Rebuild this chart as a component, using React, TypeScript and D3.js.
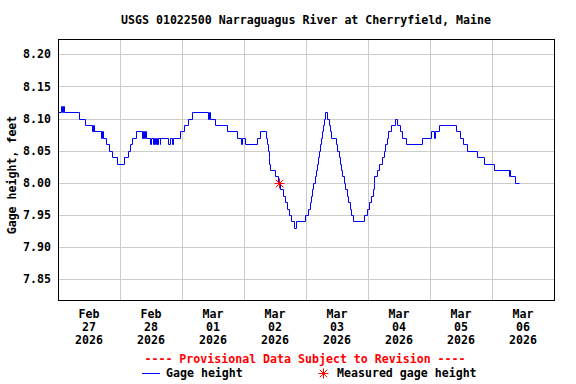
import React from 'react'
import * as d3 from 'd3'

// gage height, feet, as [hours since Feb 27 2026 00:00, value] change points
const gageHeight: [number, number][] = [
  [0, 8.11], [1.0, 8.12], [1.5, 8.11], [1.8, 8.12], [2.3, 8.11],
  [8.3, 8.1], [10.3, 8.09], [13.2, 8.08], [13.4, 8.09], [13.6, 8.08],
  [13.8, 8.09], [14.0, 8.08], [16.8, 8.07], [17.0, 8.08], [17.3, 8.07],
  [18.6, 8.06], [19.6, 8.05], [20.9, 8.04], [22.8, 8.03], [25.7, 8.04],
  [27.0, 8.05], [27.9, 8.06], [28.6, 8.07], [30.3, 8.08], [32.5, 8.07],
  [32.9, 8.08], [33.3, 8.07], [33.7, 8.08], [34.1, 8.07], [35.7, 8.06],
  [36.0, 8.07], [36.6, 8.06], [36.9, 8.07], [37.3, 8.06], [37.6, 8.07],
  [37.9, 8.06], [38.2, 8.07], [38.5, 8.06], [38.9, 8.07], [39.3, 8.06],
  [39.6, 8.07], [42.4, 8.06], [43.2, 8.07], [44.3, 8.06], [44.6, 8.07],
  [47.4, 8.08], [48.8, 8.09], [50.2, 8.1], [52.0, 8.11], [58.2, 8.1],
  [58.6, 8.11], [59.0, 8.1], [60.7, 8.09], [65.6, 8.08], [69.2, 8.07],
  [70.9, 8.06], [71.3, 8.07], [72.4, 8.06], [76.9, 8.07], [78.3, 8.08],
  [80.4, 8.07], [80.9, 8.06], [81.3, 8.05], [81.6, 8.04], [81.8, 8.03],
  [82.2, 8.02], [84.1, 8.01], [85.0, 8.0], [85.9, 7.99], [87.0, 7.98],
  [87.8, 7.97], [88.5, 7.96], [89.3, 7.95], [90.2, 7.94], [91.3, 7.93],
  [92.1, 7.94], [95.8, 7.95], [96.8, 7.96], [97.4, 7.97], [97.9, 7.98],
  [98.3, 7.99], [98.8, 8.0], [99.3, 8.01], [99.8, 8.02], [100.3, 8.03],
  [100.7, 8.04], [101.1, 8.05], [101.5, 8.06], [101.8, 8.07], [102.1, 8.08],
  [102.4, 8.09], [102.8, 8.1], [103.2, 8.11], [104.3, 8.1], [104.8, 8.09],
  [105.3, 8.08], [105.7, 8.07], [107.6, 8.06], [108.0, 8.05], [108.6, 8.04],
  [109.1, 8.03], [109.6, 8.02], [110.1, 8.01], [110.6, 8.0], [111.2, 7.99],
  [111.8, 7.98], [112.3, 7.97], [112.9, 7.96], [113.5, 7.95], [114.2, 7.94],
  [118.3, 7.95], [119.8, 7.96], [120.4, 7.97], [121.3, 7.98], [122.0, 7.99],
  [122.3, 8.0], [122.5, 8.01], [123.3, 8.02], [124.4, 8.03], [125.5, 8.04],
  [126.0, 8.05], [126.5, 8.06], [127.2, 8.07], [127.6, 8.08], [128.9, 8.09],
  [130.5, 8.1], [131.4, 8.09], [132.4, 8.08], [133.2, 8.07], [134.6, 8.06],
  [141.0, 8.07], [144.4, 8.08], [145.4, 8.07], [145.8, 8.08], [147.4, 8.09],
  [154.0, 8.08], [155.7, 8.07], [156.8, 8.06], [158.2, 8.05], [162.2, 8.04],
  [164.9, 8.03], [168.6, 8.02], [174.5, 8.01], [174.7, 8.02], [175.0, 8.01],
  [177.0, 8.0], [178.3, 8.0],
]

const measured: [number, number][] = [[85.7, 8.0]]

const yTicks = [7.85, 7.9, 7.95, 8.0, 8.05, 8.1, 8.15, 8.2]
const dayLabels = [
  ['Feb', '27', '2026'],
  ['Feb', '28', '2026'],
  ['Mar', '01', '2026'],
  ['Mar', '02', '2026'],
  ['Mar', '03', '2026'],
  ['Mar', '04', '2026'],
  ['Mar', '05', '2026'],
  ['Mar', '06', '2026'],
]

const title = 'USGS 01022500 Narraguagus River at Cherryfield, Maine'
const font = '"DejaVu Sans Mono", monospace'
const fs = 11.6

const left = 58, right = 554, top = 39, bottom = 300

// snap to pixel centres so 1px lines stay sharp
const px = (v: number) => Math.round(v) + 0.5

const App = () => {
  const x = d3.scaleLinear().domain([0, 24 * 8]).range([left, right])
  const y = d3.scaleLinear().domain([7.85, 8.2]).range([279.3, 54.3])

  const line = d3
    .line<[number, number]>()
    .x((d) => px(x(d[0])))
    .y((d) => px(y(d[1])))
    .curve(d3.curveStepAfter)

  const star = (cx: number, cy: number, r: number) => (
    <g stroke="#ff0000" strokeWidth={1}>
      <line x1={cx - r} y1={cy} x2={cx + r} y2={cy} />
      <line x1={cx} y1={cy - r} x2={cx} y2={cy + r} />
      <line x1={cx - r * 0.75} y1={cy - r * 0.75} x2={cx + r * 0.75} y2={cy + r * 0.75} />
      <line x1={cx - r * 0.75} y1={cy + r * 0.75} x2={cx + r * 0.75} y2={cy - r * 0.75} />
    </g>
  )

  const midnights = d3.range(1, 8)

  return (
    <svg
      width={576}
      height={384}
      style={{ position: 'absolute', left: 0, top: 0, background: '#fff' }}
      fontFamily={font}
      fontWeight="bold"
      fontSize={fs}
    >
      <rect width={576} height={384} fill="#fff" />
      <text x={(left + right) / 2} y={20} dy="0.35em" textAnchor="middle">
        {title}
      </text>

      {/* grid */}
      <g stroke="#cccccc">
        {yTicks.map((t) => (
          <line key={t} x1={left} x2={right} y1={px(y(t))} y2={px(y(t))} />
        ))}
        {midnights.map((d) => (
          <line key={d} x1={px(x(d * 24))} x2={px(x(d * 24))} y1={top} y2={bottom} />
        ))}
      </g>

      <path d={line(gageHeight) ?? ''} fill="none" stroke="#0000ff" strokeWidth={1} />
      {measured.map((m, i) => (
        <g key={i}>{star(px(x(m[0])), px(y(m[1])), 5)}</g>
      ))}

      <rect
        x={left + 0.5}
        y={top + 0.5}
        width={right - left}
        height={bottom - top}
        fill="none"
        stroke="#000"
      />

      {yTicks.map((t) => (
        <text key={t} x={51} y={y(t)} dy="0.35em" textAnchor="end">
          {d3.format('.2f')(t)}
        </text>
      ))}
      <text transform={`translate(12, 175) rotate(-90)`} dy="0.35em" textAnchor="middle">
        Gage height, feet
      </text>

      {dayLabels.map((lab, i) => (
        <g key={i}>
          {lab.map((s, j) => (
            <text key={j} x={x(i * 24 + 12)} y={314 + j * 13} dy="0.35em" textAnchor="middle">
              {s}
            </text>
          ))}
        </g>
      ))}

      <text x={305} y={359} dy="0.35em" textAnchor="middle" fill="#ff0000">
        ---- Provisional Data Subject to Revision ----
      </text>
      <line x1={142} x2={160} y1={373.5} y2={373.5} stroke="#0000ff" />
      <text x={166} y={373} dy="0.35em">Gage height</text>
      {star(323.5, 373.5, 5)}
      <text x={337} y={373} dy="0.35em">Measured gage height</text>
    </svg>
  )
}

export default App
